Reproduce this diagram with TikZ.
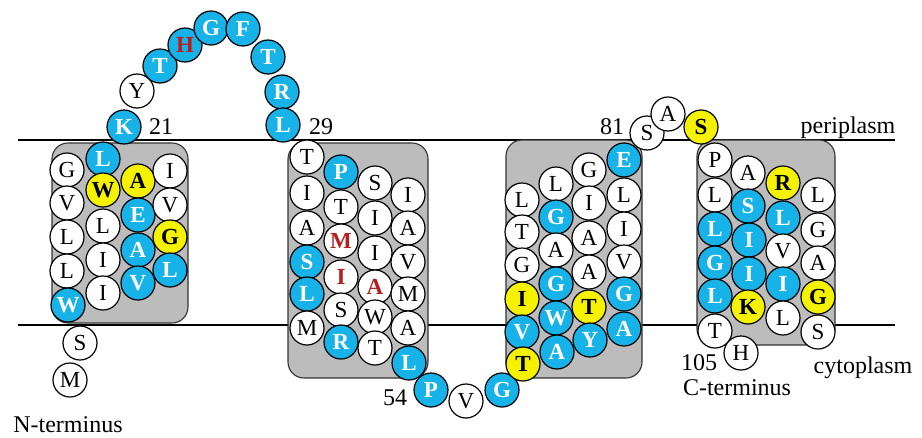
\documentclass[tikz,border=0pt]{standalone}
\usepackage{fontspec}
\setmainfont{Liberation Serif}
\definecolor{resblue}{RGB}{22,178,232}
\definecolor{resyel}{RGB}{245,242,0}
\definecolor{resred}{RGB}{185,30,30}
\definecolor{boxgray}{RGB}{188,188,188}
\begin{document}
\begin{tikzpicture}[x=1pt,y=-1pt,
 res/.style={circle,draw=black,line width=1.2pt,minimum size=34pt,inner sep=0pt,font=\fontsize{23}{23}\selectfont},
 wc/.style={res,fill=white,text=black},
 bc/.style={res,fill=resblue,text=white,font=\fontsize{23}{23}\selectfont\bfseries},
 yc/.style={res,fill=resyel,text=black,font=\fontsize{23}{23}\selectfont\bfseries},
 wr/.style={res,fill=white,text=resred,font=\fontsize{23}{23}\selectfont\bfseries},
 br/.style={res,fill=resblue,text=resred,font=\fontsize{23}{23}\selectfont\bfseries},
 tmbox/.style={draw=black!80,line width=1.1pt,fill=boxgray,rounded corners=16pt,inner sep=0pt},
 lbl/.style={font=\fontsize{24}{24}\selectfont,inner sep=0pt}
]
\useasboundingbox (0,0) rectangle (922,437);
% membrane lines
\coordinate (pl) at (18,140); \coordinate (pr) at (895,140);
\coordinate (cl) at (18,325); \coordinate (cr) at (895,325);
\draw[line width=1.3pt] (pl) -- (pr);
\draw[line width=1.3pt] (cl) -- (cr);
% helix boxes
\node[tmbox,minimum width=136pt,minimum height=180pt] (box1) at (120,233) {};
\node[tmbox,minimum width=140pt,minimum height=235pt] (box2) at (358,260.5) {};
\node[tmbox,minimum width=136pt,minimum height=238pt] (box3) at (574,259) {};
\node[tmbox,minimum width=138pt,minimum height=205pt] (box4) at (766,242.5) {};
% N-terminal tail and helix 1
\foreach \n/\s/\x/\y/\t in {
 rM/wc/70/380/M, rS/wc/80/343/S,
 a1/wc/67/170/G, a2/wc/67/203/V, a3/wc/67/237/L, a4/wc/67/271/L, a5/bc/68/305/W,
 b1/bc/103/159/L, b2/yc/103/190/W, b3/wc/103/226/L, b4/wc/103/260/I, b5/wc/103/293/I,
 c1/yc/138/181/A, c2/bc/138/215/E, c3/bc/138/250/A, c4/bc/138/283/V,
 d1/wc/170/171/I, d2/wc/170/205/V, d3/yc/170/237/G, d4/bc/170/270/L,
 l1/bc/124/127/K, l2/wc/137/91/Y, l3/bc/160/66/T, l4/br/185/45/H, l5/bc/211/28/G,
 l6/bc/243/29/F, l7/bc/268/57/T, l8/bc/282/92/R, l9/bc/283/125/L}
 {\node[\s] (\n) at (\x,\y) {\t};}
% helix 2
\foreach \n/\s/\x/\y/\t in {
 e1/wc/307/157/T, e2/wc/307/193/I, e3/wc/307/228/A, e4/bc/307/262/S, e5/bc/307/294/L, e6/wc/307/328/M,
 f1/bc/341/172/P, f2/wc/341/207/T, f3/wr/341/241/M, f4/wr/341/277/I, f5/wc/341/310/S, f6/bc/341/342/R,
 g1/wc/375/183/S, g2/wc/375/218/I, g3/wc/375/253/I, g4/wr/375/287/A, g5/wc/375/317/W, g6/wc/375/348/T,
 h1/wc/408/195/I, h2/wc/408/228/A, h3/wc/408/262/V, h4/wc/408/294/M, h5/wc/408/328/A, h6/bc/409/363/L,
 m1/bc/431/390/P, m2/wc/466/401/V, m3/bc/502/390/G}
 {\node[\s] (\n) at (\x,\y) {\t};}
% helix 3
\foreach \n/\s/\x/\y/\t in {
 i1/wc/522/200/L, i2/wc/522/232/T, i3/wc/522/265/G, i4/yc/522/299/I, i5/bc/522/332/V, i6/yc/523/364/T,
 j1/wc/556/184/L, j2/bc/556/217/G, j3/wc/556/250/A, j4/bc/556/284/G, j5/bc/556/318/W, j6/bc/557/352/A,
 k1/wc/589/170/G, k2/wc/589/203/I, k3/wc/589/238/A, k4/wc/589/272/A, k5/yc/589/307/T, k6/bc/590/340/Y,
 o1/bc/624/160/E, o2/wc/624/195/L, o3/wc/624/229/I, o4/wc/624/262/V, o5/bc/624/294/G, o6/bc/624/329/A,
 n1/wc/647/133/S, n2/wc/668/114/A, n3/yc/701/127/S}
 {\node[\s] (\n) at (\x,\y) {\t};}
% helix 4
\foreach \n/\s/\x/\y/\t in {
 p1/wc/715/160/P, p2/wc/715/195/L, p3/bc/715/229/L, p4/bc/715/263/G, p5/bc/715/296/L, p6/wc/715/331/T,
 q1/wc/748/173/A, q2/bc/748/206/S, q3/bc/749/240/I, q4/bc/749/274/I, q5/yc/748/307/K, q6/wc/741/353/H,
 s1/yc/783/183/R, s2/bc/783/218/L, s3/wc/783/251/V, s4/bc/783/284/I, s5/wc/783/318/L,
 t1/wc/818/195/L, t2/wc/818/230/G, t3/wc/818/263/A, t4/yc/818/297/G, t5/wc/818/332/S}
 {\node[\s] (\n) at (\x,\y) {\t};}
% labels
\node[lbl] (n21) at (161,127) {21};
\node[lbl] (n29) at (321,127) {29};
\node[lbl] (n54) at (395,398) {54};
\node[lbl] (n81) at (612,127) {81};
\node[lbl] (n105) at (699,363) {105};
\node[lbl] (nterm) at (68,425) {N-terminus};
\node[lbl] (cterm) at (737,388) {C-terminus};
\node[lbl] (peri) at (848,128) {periplasm};
\node[lbl] (cyto) at (863,368) {cytoplasm};
\end{tikzpicture}
\end{document}
